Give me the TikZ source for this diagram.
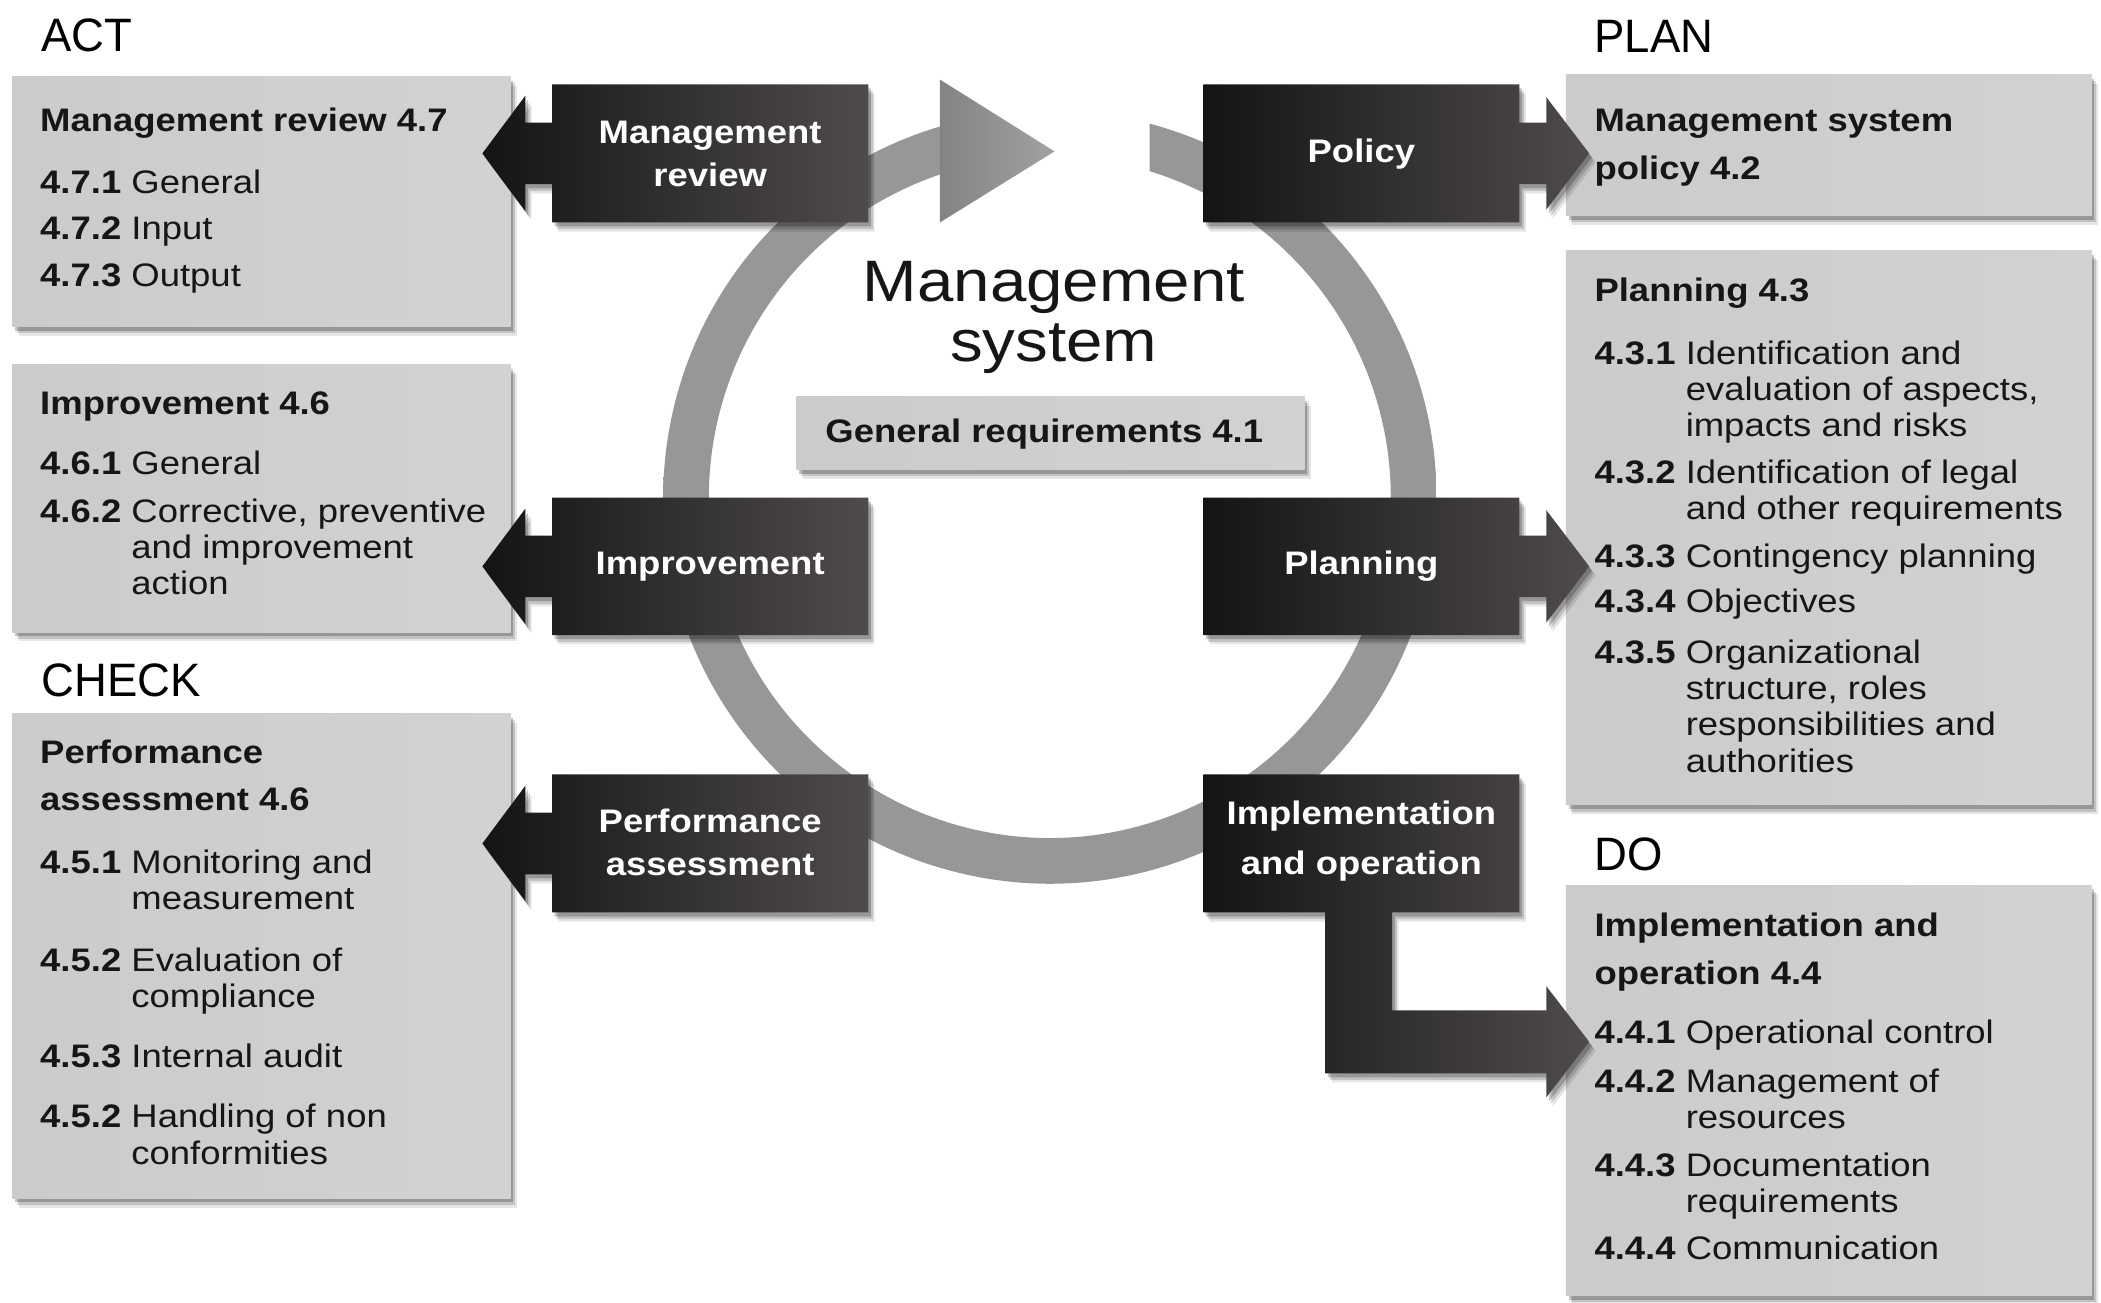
\documentclass[tikz,border=0pt]{standalone}
\usepackage{fontspec}
\setmainfont{Liberation Sans}[FakeStretch=1.12]
\newfontfamily\hdrfont{Liberation Sans}[FakeStretch=0.97]
\usetikzlibrary{shadows,fit}
\definecolor{txt}{HTML}{161616}
\definecolor{lbL}{HTML}{CBCBCB}
\definecolor{lbM}{HTML}{D7D7D7}
\definecolor{lbR}{HTML}{D2D2D2}
\definecolor{dk1}{HTML}{141414}
\definecolor{dk2}{HTML}{242424}
\definecolor{dk3}{HTML}{504B4B}
\definecolor{ringin}{HTML}{979797}
\definecolor{ringout}{HTML}{878787}
\definecolor{arrL}{HTML}{838383}
\definecolor{arrR}{HTML}{A2A2A2}
\pgfdeclareradialshading{ringsh}{\pgfpoint{0bp}{0bp}}{color(0bp)=(ringin); color(44bp)=(ringin); color(50bp)=(ringout)}
\newcommand\itm[2]{\textbf{#1} \begin{tabular}[t]{@{}l@{}}#2\end{tabular}}
\newcommand\ttl[1]{\textbf{\begin{tabular}[t]{@{}l@{}}#1\end{tabular}}}
\newcommand\ctr[1]{\begin{tabular}[t]{@{}c@{}}#1\end{tabular}}
\begin{document}
\begin{tikzpicture}[x=0.5pt,y=-0.5pt,
  every node/.style={inner sep=0pt, outer sep=0pt, font=\fontsize{12.15pt}{13.5pt}\selectfont, text=txt},
  softshadow/.style={
    drop shadow={shadow xshift=2.4pt, shadow yshift=-3.4pt, opacity=0.10, fill=black},
    drop shadow={shadow xshift=1.7pt, shadow yshift=-2.5pt, opacity=0.15, fill=black},
    drop shadow={shadow xshift=1pt, shadow yshift=-1.5pt, opacity=0.22, fill=black}},
  lightbox/.style={inner sep=0pt, left color=lbL, middle color=lbM, right color=lbR, softshadow},
  darkshape/.style={left color=dk1, middle color=dk2, right color=dk3, softshadow},
  item/.style={anchor=base west},
  hdr/.style={anchor=base west, font=\hdrfont\fontsize{17.5pt}{20pt}\selectfont, text=black},
  dtxt/.style={anchor=base, text=white, font=\bfseries\fontsize{12.15pt}{13.5pt}\selectfont}
]
\fill[white] (0,0) rectangle (1568,972);
\useasboundingbox (0,0) rectangle (1568,972);

% ---- ring with gap at the top ----
\coordinate (C) at (783.5,371);
\begin{scope}
  \clip ([shift={(-75.04:288.5)}]C) arc[start angle=-75.04, end angle=253.5, radius=288.5]
        -- ([shift={(251.2:254.4)}]C) arc[start angle=251.2, end angle=-72.97, radius=254.4] -- cycle;
  \shade[shading=ringsh] (495,82.5) rectangle (1072,659.5);
\end{scope}
\shade[left color=arrL, right color=arrR] (701.5,59.4) -- (787,113) -- (701.5,166) -- cycle;

% ---- section headings ----
\node[hdr] (act) at (31,38.7) {ACT};
\node[hdr] (plan) at (1190,39.5) {PLAN};
\node[hdr] (check) at (31,519.5) {CHECK};
\node[hdr] (do) at (1190,649.3) {DO};

% ---- light boxes ----
\node[lightbox, fit={(9.3,57.2) (381,243.8)}] (mrbox) {};
\node[lightbox, fit={(9.3,272.3) (381,471.8)}] (impbox) {};
\node[lightbox, fit={(9.3,532.5) (381,894.4)}] (perfbox) {};
\node[lightbox, fit={(1168.7,55.7) (1561,160.9)}] (polbox) {};
\node[lightbox, fit={(1168.7,187.2) (1561,600.7)}] (planbox) {};
\node[lightbox, fit={(1168.7,660.7) (1561,967)}] (dobox) {};
\node[lightbox, fit={(594.6,296) (973.6,350.5)}] (genbox) {};

% ---- dark boxes with arrows ----
\shade[darkshape] (648,63) -- (412,63) -- (412,91.5) -- (392,91.5) -- (392,71.5) -- (360,114.5)
  -- (392,157.5) -- (392,137.5) -- (412,137.5) -- (412,166) -- (648,166) -- cycle;
\shade[darkshape] (648,371.4) -- (412,371.4) -- (412,399.7) -- (392,399.7) -- (392,379.7) -- (360,422.7)
  -- (392,465.7) -- (392,445.7) -- (412,445.7) -- (412,474) -- (648,474) -- cycle;
\shade[darkshape] (648,578) -- (412,578) -- (412,606.5) -- (392,606.5) -- (392,586.5) -- (360,629.5)
  -- (392,672.5) -- (392,652.5) -- (412,652.5) -- (412,681) -- (648,681) -- cycle;
\shade[darkshape] (898,63) -- (1134,63) -- (1134,91.5) -- (1154,91.5) -- (1154,72.5) -- (1186,114.5)
  -- (1154,156.5) -- (1154,137.5) -- (1134,137.5) -- (1134,166) -- (898,166) -- cycle;
\shade[darkshape] (898,371.4) -- (1134,371.4) -- (1134,399.7) -- (1154,399.7) -- (1154,380.7) -- (1186,422.7)
  -- (1154,464.7) -- (1154,445.7) -- (1134,445.7) -- (1134,474) -- (898,474) -- cycle;
\shade[darkshape] (898,578) -- (1134,578) -- (1134,681) -- (1039,681) -- (1039,754) -- (1154,754)
  -- (1154,736) -- (1186,777.5) -- (1154,819) -- (1154,801) -- (989,801) -- (989,681) -- (898,681) -- cycle;

% ---- dark box labels ----
\node[dtxt] (d-mr) at (530,107) {\ctr{Management\\[2.5pt]review}};
\node[dtxt] (d-imp) at (530,429) {Improvement};
\node[dtxt] (d-perf) at (530,621) {\ctr{Performance\\[2.8pt]assessment}};
\node[dtxt] (d-pol) at (1016,121.5) {Policy};
\node[dtxt] (d-plan) at (1016,429) {Planning};
\node[dtxt] (d-impl) at (1016,615.7) {\ctr{Implementation\\[5pt]and operation}};

% ---- centre ----
\node[anchor=base] (title) at (786.5,225)
  {\fontsize{21.8pt}{22.5pt}\selectfont\ctr{Management\\system}};
\node[item] (gen) at (616,330.4) {\textbf{General requirements 4.1}};

% ---- ACT: management review ----
\node[item] (mr-t) at (30,98.3) {\textbf{Management review 4.7}};
\node[item] (mr-1) at (30,144.3) {\itm{4.7.1}{General}};
\node[item] (mr-2) at (30,179) {\itm{4.7.2}{Input}};
\node[item] (mr-3) at (30,214) {\itm{4.7.3}{Output}};

% ---- ACT: improvement ----
\node[item] (imp-t) at (30,309.4) {\textbf{Improvement 4.6}};
\node[item] (imp-1) at (30,354.3) {\itm{4.6.1}{General}};
\node[item] (imp-2) at (30,389.9) {\itm{4.6.2}{Corrective, preventive\\and improvement\\action}};

% ---- CHECK ----
\node[item] (pf-t) at (30,569.8) {\ttl{Performance\\[4.2pt]assessment 4.6}};
\node[item] (pf-1) at (30,651.6) {\itm{4.5.1}{Monitoring and\\measurement}};
\node[item] (pf-2) at (30,725) {\itm{4.5.2}{Evaluation of\\compliance}};
\node[item] (pf-3) at (30,796.4) {\itm{4.5.3}{Internal audit}};
\node[item] (pf-4) at (30,841.8) {\itm{4.5.2}{Handling of non\\conformities}};

% ---- PLAN: policy ----
\node[item] (pol-t) at (1190,98.4) {\ttl{Management system\\[4.2pt]policy 4.2}};

% ---- PLAN: planning ----
\node[item] (pl-t) at (1190,225) {\textbf{Planning 4.3}};
\node[item] (pl-1) at (1190,271.7) {\itm{4.3.1}{Identification and\\evaluation of aspects,\\impacts and risks}};
\node[item] (pl-2) at (1190,360.5) {\itm{4.3.2}{Identification of legal\\and other requirements}};
\node[item] (pl-3) at (1190,423.9) {\itm{4.3.3}{Contingency planning}};
\node[item] (pl-4) at (1190,457.3) {\itm{4.3.4}{Objectives}};
\node[item] (pl-5) at (1190,495.2) {\itm{4.3.5}{Organizational\\structure, roles\\responsibilities and\\authorities}};

% ---- DO ----
\node[item] (do-t) at (1190,699) {\ttl{Implementation and\\[4.2pt]operation 4.4}};
\node[item] (do-1) at (1190,779) {\itm{4.4.1}{Operational control}};
\node[item] (do-2) at (1190,815) {\itm{4.4.2}{Management of\\resources}};
\node[item] (do-3) at (1190,878.2) {\itm{4.4.3}{Documentation\\requirements}};
\node[item] (do-4) at (1190,939.9) {\itm{4.4.4}{Communication}};
\end{tikzpicture}
\end{document}
